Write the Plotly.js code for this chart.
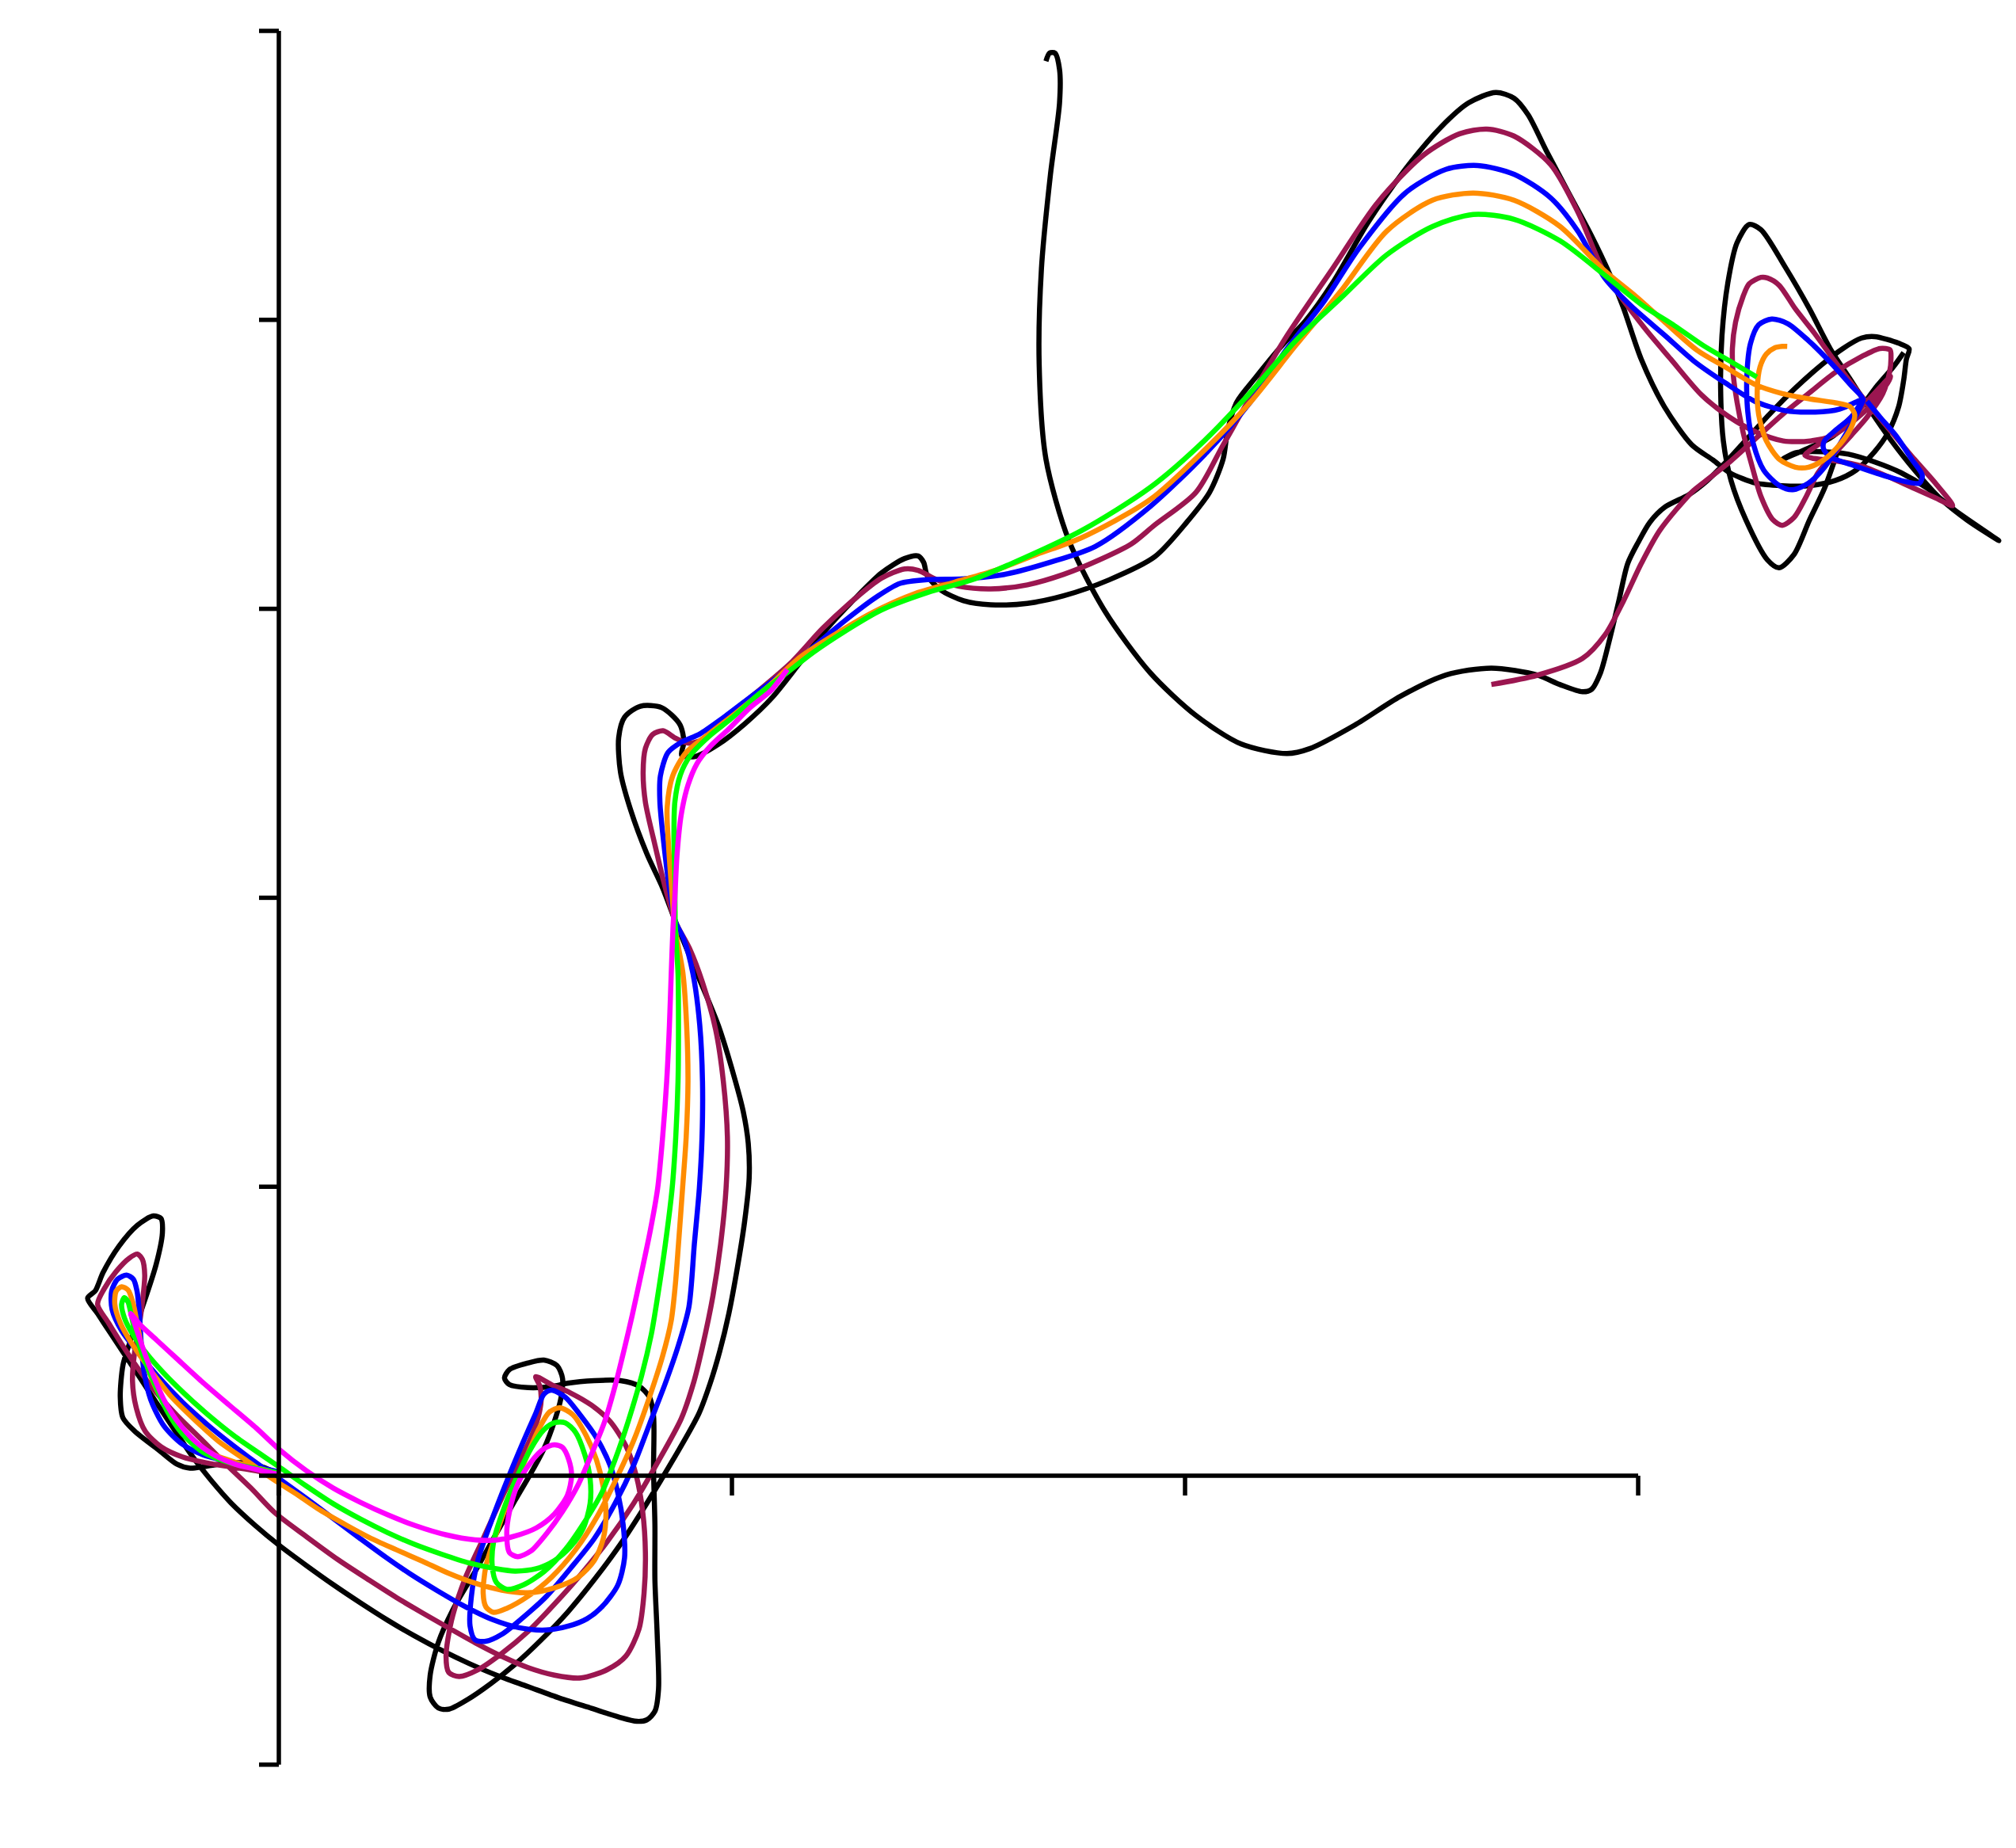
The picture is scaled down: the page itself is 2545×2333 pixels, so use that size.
<!DOCTYPE html>
<html>
<head>
<meta charset="utf-8">
<script src="https://cdn.plot.ly/plotly-3.0.1.min.js"></script>
<style>
  html, body { margin: 0; padding: 0; background: #fff; }
  #chart { width: 2545px; height: 2333px; }
</style>
</head>
<body>
<div id="chart"></div>
<script>
// axis ticks (no labels in the original)
var xTicks = [0, 1, 2, 3];
var yTicks = [-1, 0, 1, 2, 3, 4, 5];

// fitted paths, [x, y] pairs; null = break in the line
var blackPath = [[-0.001,0.006],[-0.038,0.031],[-0.079,0.045],[-0.132,0.040],[-0.167,0.031],[-0.196,0.026],[-0.225,0.040],[-0.266,0.090],[-0.318,0.154],[-0.344,0.200],[-0.350,0.273],[-0.344,0.383],[-0.330,0.456],[-0.301,0.584],[-0.271,0.730],[-0.257,0.840],[-0.260,0.890],[-0.277,0.899],[-0.312,0.867],[-0.353,0.794],[-0.388,0.703],[-0.405,0.640],[-0.422,0.614],[-0.400,0.561],[-0.371,0.492],[-0.341,0.421],[-0.312,0.352],[-0.272,0.257],[-0.225,0.146],[-0.190,0.065],[-0.150,-0.015],[-0.105,-0.095],[-0.050,-0.175],[0.000,-0.240],[0.060,-0.310],[0.120,-0.377],[0.180,-0.440],[0.240,-0.500],[0.300,-0.555],[0.360,-0.605],[0.420,-0.650],[0.480,-0.690],[0.550,-0.730],[0.620,-0.770],[0.690,-0.805],[0.750,-0.835],[0.790,-0.850],[0.812,-0.845],[0.830,-0.815],[0.838,-0.738],[0.835,-0.549],[0.830,-0.360],[0.830,-0.171],[0.827,0.018],[0.827,0.206],[0.818,0.272],[0.795,0.310],[0.754,0.329],[0.696,0.329],[0.637,0.320],[0.608,0.310],[0.550,0.305],[0.509,0.315],[0.498,0.338],[0.509,0.367],[0.550,0.390],[0.585,0.400],[0.614,0.381],[0.626,0.338],[0.623,0.272],[0.608,0.187],[0.585,0.093],[0.556,0.008],[0.521,-0.086],[0.480,-0.200],[0.433,-0.332],[0.387,-0.455],[0.352,-0.577],[0.334,-0.690],[0.334,-0.766],[0.352,-0.804],[0.375,-0.808],[0.416,-0.775],[0.468,-0.719],[0.521,-0.653],[0.579,-0.568],[0.637,-0.473],[0.696,-0.360],[0.754,-0.237],[0.812,-0.096],[0.870,0.055],[0.927,0.215],[0.952,0.320],[0.973,0.430],[0.993,0.560],[1.012,0.720],[1.028,0.880],[1.038,1.030],[1.036,1.150],[1.025,1.260],[1.005,1.380],[0.970,1.558],[0.923,1.737],[0.876,1.915],[0.847,2.034],[0.812,2.153],[0.777,2.301],[0.754,2.435],[0.750,2.554],[0.763,2.625],[0.798,2.663],[0.845,2.658],[0.885,2.600],[0.894,2.539],[0.889,2.494],[0.919,2.489],[0.969,2.530],[1.029,2.603],[1.090,2.695],[1.150,2.813],[1.210,2.932],[1.270,3.033],[1.330,3.124],[1.381,3.174],[1.411,3.183],[1.423,3.161],[1.431,3.115],[1.461,3.065],[1.511,3.028],[1.571,3.014],[1.652,3.019],[1.732,3.045],[1.832,3.100],[1.933,3.180],[2.004,3.300],[2.054,3.403],[2.084,3.518],[2.094,3.617],[2.114,3.715],[2.154,3.797],[2.215,3.913],[2.265,3.995],[2.325,4.126],[2.405,4.340],[2.486,4.521],[2.566,4.669],[2.626,4.751],[2.686,4.787],[2.726,4.767],[2.757,4.710],[2.797,4.586],[2.847,4.438],[2.897,4.291],[2.937,4.159],[2.967,4.044],[3.007,3.863],[3.058,3.699],[3.118,3.568],[3.165,3.515],[3.202,3.471],[3.260,3.435],[3.318,3.426],[3.376,3.426],[3.435,3.444],[3.481,3.480],[3.522,3.544],[3.551,3.608],[3.575,3.700],[3.586,3.791],[3.592,3.864],[3.598,3.900],[3.575,3.919],[3.522,3.942],[3.493,3.937],[3.452,3.901],[3.406,3.846],[3.347,3.764],[3.289,3.672],[3.231,3.572],[3.195,3.510],[3.150,3.440],[3.112,3.395],[3.059,3.352],[3.026,3.300],[3.000,3.230],[2.977,3.157],[2.957,3.025],[2.937,2.894],[2.917,2.779],[2.897,2.721],[2.877,2.713],[2.827,2.738],[2.777,2.771],[2.676,2.795],[2.576,2.771],[2.475,2.697],[2.375,2.598],[2.275,2.516],[2.225,2.499],[2.124,2.532],[2.024,2.631],[1.923,2.779],[1.823,2.992],[1.743,3.239],[1.693,3.518],[1.678,3.847],[1.683,4.176],[1.703,4.504],[1.723,4.751],[1.723,4.866],[1.713,4.923],[1.701,4.923],[1.693,4.895],
  null,
  [3.440,3.544],[3.411,3.416],[3.378,3.307],[3.344,3.188],[3.311,3.142],[3.285,3.170],[3.238,3.307],[3.205,3.444],[3.188,3.581],[3.182,3.764],[3.185,3.946],[3.198,4.129],[3.218,4.266],[3.245,4.330],[3.271,4.312],[3.324,4.184],[3.378,4.038],[3.424,3.900],[3.470,3.790],[3.515,3.680],[3.555,3.590],[3.610,3.480],[3.668,3.380],[3.726,3.307],[3.796,3.236],[3.700,3.340],[3.640,3.415],[3.580,3.471],[3.522,3.508],[3.464,3.535],[3.406,3.544],[3.347,3.540],[3.318,3.517],[3.376,3.556],[3.423,3.590],[3.458,3.636],[3.493,3.700],[3.528,3.773],[3.563,3.837],[3.586,3.887]];

var maroonPath = [[-0.001,0.001],[-0.050,0.017],[-0.108,0.031],[-0.161,0.045],[-0.213,0.065],[-0.260,0.100],[-0.295,0.154],[-0.315,0.237],[-0.323,0.328],[-0.319,0.419],[-0.309,0.511],[-0.301,0.602],[-0.296,0.694],[-0.301,0.748],[-0.312,0.767],[-0.330,0.753],[-0.359,0.707],[-0.385,0.648],[-0.400,0.593],[-0.376,0.529],[-0.347,0.456],[-0.312,0.374],[-0.272,0.291],[-0.225,0.209],[-0.172,0.127],[-0.120,0.045],[-0.062,-0.042],[-0.009,-0.128],[0.060,-0.210],[0.130,-0.290],[0.200,-0.362],[0.260,-0.422],[0.317,-0.475],[0.375,-0.527],[0.433,-0.578],[0.492,-0.625],[0.550,-0.664],[0.608,-0.690],[0.667,-0.700],[0.725,-0.671],[0.766,-0.624],[0.795,-0.530],[0.806,-0.407],[0.809,-0.266],[0.803,-0.124],[0.789,-0.001],[0.766,0.103],[0.731,0.188],[0.690,0.244],[0.643,0.287],[0.602,0.315],[0.567,0.343],[0.576,0.310],[0.579,0.263],[0.573,0.206],[0.556,0.131],[0.527,0.036],[0.492,-0.077],[0.451,-0.218],[0.410,-0.360],[0.381,-0.502],[0.369,-0.624],[0.375,-0.681],[0.398,-0.695],[0.439,-0.672],[0.492,-0.615],[0.550,-0.539],[0.608,-0.445],[0.667,-0.341],[0.725,-0.228],[0.783,-0.096],[0.836,0.046],[0.888,0.197],[0.915,0.320],[0.935,0.447],[0.958,0.622],[0.975,0.801],[0.987,0.994],[0.990,1.172],[0.981,1.365],[0.964,1.544],[0.935,1.707],[0.906,1.826],[0.876,1.915],[0.853,2.034],[0.830,2.183],[0.809,2.331],[0.804,2.435],[0.809,2.517],[0.825,2.565],[0.848,2.578],[0.876,2.552],[0.905,2.535],[0.935,2.548],[0.969,2.603],[1.049,2.704],[1.130,2.813],[1.200,2.932],[1.270,3.033],[1.330,3.106],[1.381,3.138],[1.411,3.133],[1.451,3.101],[1.501,3.078],[1.571,3.069],[1.652,3.083],[1.732,3.119],[1.812,3.170],[1.882,3.225],[1.933,3.290],[2.024,3.403],[2.084,3.567],[2.144,3.732],[2.225,3.945],[2.325,4.176],[2.425,4.406],[2.526,4.570],[2.606,4.644],[2.666,4.660],[2.726,4.636],[2.807,4.537],[2.867,4.373],[2.927,4.159],[3.013,3.974],[3.072,3.864],[3.140,3.740],[3.200,3.665],[3.260,3.612],[3.320,3.581],[3.380,3.581],[3.430,3.600],[3.464,3.636],[3.505,3.691],[3.534,3.745],[3.554,3.791],[3.557,3.805],[3.546,3.787],[3.505,3.718],[3.458,3.645],[3.417,3.590],[3.376,3.544],[3.368,3.531],[3.382,3.522],[3.435,3.512],[3.493,3.494],[3.551,3.458],[3.610,3.416],[3.656,3.384],[3.694,3.357],[3.656,3.435],[3.610,3.517],[3.551,3.627],[3.493,3.736],[3.435,3.855],[3.388,3.956],[3.347,4.038],[3.311,4.120],[3.285,4.145],[3.271,4.147],[3.245,4.125],[3.232,4.083],[3.215,3.992],[3.208,3.901],[3.210,3.809],[3.218,3.718],[3.232,3.608],[3.252,3.490],[3.271,3.389],[3.298,3.307],[3.318,3.289],[3.344,3.316],[3.371,3.389],[3.397,3.471],[3.435,3.540],[3.470,3.600],[3.505,3.663],[3.540,3.745],[3.555,3.820],[3.558,3.870],[3.556,3.896],[3.534,3.901],[3.493,3.873],[3.435,3.818],[3.376,3.745],[3.318,3.672],[3.260,3.590],[3.202,3.508],[3.143,3.435],[3.118,3.403],[3.048,3.272],[3.007,3.157],[2.967,3.025],[2.927,2.910],[2.877,2.828],[2.777,2.770],[2.676,2.738]];

var bluePath = [[-0.001,0.013],[-0.050,0.031],[-0.108,0.049],[-0.167,0.072],[-0.213,0.109],[-0.254,0.173],[-0.283,0.264],[-0.298,0.365],[-0.304,0.465],[-0.308,0.566],[-0.313,0.639],[-0.321,0.680],[-0.336,0.694],[-0.356,0.680],[-0.369,0.639],[-0.368,0.575],[-0.347,0.502],[-0.312,0.429],[-0.266,0.342],[-0.213,0.255],[-0.155,0.173],[-0.097,0.100],[-0.038,0.031],[0.000,-0.010],[0.060,-0.078],[0.120,-0.148],[0.180,-0.218],[0.236,-0.282],[0.290,-0.340],[0.350,-0.398],[0.410,-0.452],[0.470,-0.497],[0.530,-0.526],[0.590,-0.534],[0.640,-0.520],[0.680,-0.495],[0.713,-0.454],[0.748,-0.379],[0.763,-0.284],[0.760,-0.171],[0.748,-0.058],[0.731,0.036],[0.701,0.131],[0.667,0.206],[0.632,0.272],[0.602,0.296],[0.585,0.282],[0.567,0.216],[0.538,0.112],[0.503,-0.020],[0.468,-0.162],[0.439,-0.294],[0.425,-0.417],[0.422,-0.520],[0.433,-0.568],[0.457,-0.573],[0.492,-0.549],[0.538,-0.492],[0.591,-0.417],[0.643,-0.322],[0.696,-0.218],[0.742,-0.096],[0.783,0.036],[0.818,0.178],[0.853,0.320],[0.882,0.452],[0.905,0.584],[0.917,0.801],[0.928,0.994],[0.934,1.172],[0.935,1.365],[0.929,1.558],[0.914,1.737],[0.894,1.856],[0.876,1.915],[0.862,2.034],[0.850,2.183],[0.841,2.331],[0.842,2.421],[0.859,2.503],[0.889,2.539],[0.929,2.567],[0.979,2.621],[1.049,2.704],[1.120,2.786],[1.180,2.868],[1.250,2.960],[1.320,3.042],[1.371,3.088],[1.431,3.101],[1.511,3.104],[1.601,3.119],[1.702,3.161],[1.802,3.216],[1.923,3.354],[2.044,3.535],[2.144,3.715],[2.225,3.900],[2.305,4.060],[2.385,4.250],[2.486,4.439],[2.576,4.521],[2.646,4.534],[2.726,4.504],[2.807,4.422],[2.867,4.307],[2.927,4.143],[2.990,4.040],[3.059,3.946],[3.125,3.855],[3.192,3.782],[3.258,3.718],[3.324,3.686],[3.391,3.681],[3.444,3.691],[3.484,3.718],[3.495,3.727],[3.470,3.773],[3.423,3.855],[3.376,3.928],[3.330,3.987],[3.295,4.003],[3.266,3.983],[3.248,3.919],[3.240,3.809],[3.242,3.681],[3.254,3.572],[3.277,3.480],[3.312,3.426],[3.341,3.412],[3.376,3.435],[3.411,3.489],[3.446,3.572],[3.476,3.654],[3.493,3.709],[3.497,3.725],[3.470,3.663],[3.435,3.617],[3.411,3.581],[3.409,3.554],[3.423,3.526],[3.470,3.499],[3.522,3.471],[3.580,3.444],[3.621,3.435],[3.627,3.462],[3.604,3.517],[3.569,3.599],[3.534,3.663],[3.505,3.718]];

var orangePath = [[-0.001,0.008],[-0.050,0.028],[-0.097,0.047],[-0.155,0.081],[-0.207,0.145],[-0.248,0.237],[-0.283,0.346],[-0.301,0.438],[-0.312,0.520],[-0.321,0.593],[-0.333,0.643],[-0.347,0.654],[-0.359,0.639],[-0.362,0.593],[-0.350,0.529],[-0.324,0.456],[-0.283,0.365],[-0.237,0.273],[-0.184,0.191],[-0.132,0.118],[-0.073,0.054],[-0.015,-0.010],[0.043,-0.068],[0.090,-0.118],[0.150,-0.172],[0.200,-0.214],[0.259,-0.256],[0.317,-0.296],[0.375,-0.338],[0.433,-0.372],[0.492,-0.396],[0.550,-0.405],[0.608,-0.388],[0.661,-0.351],[0.696,-0.294],[0.716,-0.218],[0.722,-0.133],[0.716,-0.039],[0.701,0.055],[0.678,0.140],[0.649,0.211],[0.620,0.235],[0.597,0.220],[0.573,0.159],[0.544,0.055],[0.509,-0.077],[0.480,-0.200],[0.457,-0.313],[0.451,-0.407],[0.457,-0.454],[0.474,-0.473],[0.503,-0.459],[0.550,-0.417],[0.602,-0.351],[0.655,-0.256],[0.702,-0.143],[0.742,-0.020],[0.783,0.121],[0.818,0.272],[0.847,0.414],[0.866,0.537],[0.875,0.660],[0.882,0.801],[0.891,0.994],[0.899,1.172],[0.903,1.365],[0.900,1.558],[0.892,1.737],[0.874,1.900],[0.866,2.050],[0.860,2.183],[0.857,2.311],[0.869,2.421],[0.899,2.503],[0.949,2.567],[1.009,2.640],[1.080,2.731],[1.150,2.832],[1.230,2.914],[1.310,2.987],[1.401,3.051],[1.491,3.092],[1.581,3.133],[1.672,3.188],[1.770,3.245],[1.923,3.378],[2.044,3.551],[2.144,3.715],[2.245,3.913],[2.345,4.102],[2.445,4.307],[2.546,4.414],[2.636,4.439],[2.726,4.414],[2.827,4.324],[2.926,4.170],[2.993,4.084],[3.059,3.992],[3.130,3.895],[3.192,3.837],[3.260,3.775],[3.318,3.745],[3.376,3.727],[3.435,3.713],[3.467,3.700],[3.478,3.672],[3.470,3.627],[3.447,3.572],[3.411,3.517],[3.376,3.490],[3.347,3.490],[3.312,3.517],[3.283,3.581],[3.266,3.672],[3.263,3.764],[3.269,3.837],[3.283,3.882],[3.301,3.903],[3.318,3.908],[3.329,3.908]];

var greenPath = [[-0.001,0.010],[-0.050,0.025],[-0.108,0.045],[-0.167,0.081],[-0.213,0.145],[-0.248,0.228],[-0.277,0.328],[-0.301,0.419],[-0.318,0.502],[-0.327,0.566],[-0.333,0.602],[-0.341,0.616],[-0.347,0.593],[-0.341,0.547],[-0.324,0.493],[-0.295,0.429],[-0.254,0.355],[-0.207,0.282],[-0.155,0.209],[-0.097,0.136],[-0.038,0.072],[0.000,0.031],[0.060,-0.035],[0.120,-0.097],[0.180,-0.150],[0.240,-0.197],[0.300,-0.238],[0.360,-0.272],[0.420,-0.302],[0.480,-0.322],[0.521,-0.330],[0.568,-0.322],[0.608,-0.294],[0.643,-0.247],[0.672,-0.181],[0.687,-0.096],[0.687,-0.011],[0.675,0.074],[0.655,0.150],[0.632,0.183],[0.608,0.183],[0.585,0.159],[0.556,0.093],[0.521,-0.020],[0.492,-0.134],[0.474,-0.228],[0.471,-0.313],[0.480,-0.369],[0.503,-0.393],[0.538,-0.379],[0.585,-0.332],[0.632,-0.256],[0.678,-0.152],[0.713,-0.058],[0.742,0.055],[0.771,0.188],[0.801,0.348],[0.822,0.489],[0.836,0.620],[0.853,0.801],[0.868,0.994],[0.876,1.172],[0.881,1.365],[0.882,1.558],[0.881,1.737],[0.875,1.900],[0.874,2.064],[0.872,2.212],[0.874,2.331],[0.886,2.425],[0.909,2.494],[0.949,2.558],[0.999,2.621],[1.059,2.704],[1.120,2.777],[1.180,2.850],[1.250,2.923],[1.330,2.996],[1.431,3.056],[1.531,3.101],[1.622,3.160],[1.773,3.272],[1.923,3.420],[2.044,3.584],[2.144,3.748],[2.245,3.929],[2.345,4.077],[2.445,4.225],[2.546,4.323],[2.636,4.365],[2.726,4.348],[2.827,4.274],[2.930,4.150],[3.010,4.050],[3.080,3.980],[3.145,3.910],[3.205,3.855],[3.262,3.802]];

var magentaPath = [[-0.001,0.004],[-0.050,0.022],[-0.097,0.040],[-0.143,0.072],[-0.184,0.118],[-0.225,0.191],[-0.254,0.264],[-0.277,0.346],[-0.295,0.419],[-0.309,0.483],[-0.321,0.538],[-0.327,0.561],[-0.306,0.522],[-0.270,0.470],[-0.225,0.405],[-0.170,0.326],[-0.110,0.245],[-0.050,0.165],[0.000,0.092],[0.060,0.018],[0.120,-0.043],[0.180,-0.092],[0.240,-0.135],[0.300,-0.172],[0.370,-0.205],[0.433,-0.222],[0.480,-0.223],[0.521,-0.209],[0.568,-0.181],[0.608,-0.133],[0.637,-0.067],[0.646,-0.001],[0.640,0.055],[0.626,0.098],[0.608,0.107],[0.585,0.093],[0.556,0.046],[0.527,-0.030],[0.509,-0.124],[0.503,-0.200],[0.509,-0.266],[0.527,-0.280],[0.556,-0.261],[0.591,-0.200],[0.626,-0.124],[0.661,-0.030],[0.690,0.074],[0.719,0.187],[0.742,0.310],[0.763,0.442],[0.780,0.556],[0.800,0.700],[0.820,0.850],[0.836,0.994],[0.847,1.172],[0.856,1.365],[0.862,1.558],[0.866,1.737],[0.870,1.900],[0.874,2.004],[0.879,2.153],[0.888,2.287],[0.903,2.390],[0.923,2.465],[0.952,2.524],[0.993,2.584],[1.040,2.658],[1.086,2.717],[1.122,2.790]];

var series = [
  { path: blackPath,   color: '#000000' },
  { path: maroonPath,  color: '#9b1650' },
  { path: bluePath,    color: '#0000ff' },
  { path: orangePath,  color: '#ff8c00' },
  { path: greenPath,   color: '#00ff00' },
  { path: magentaPath, color: '#ff00ff' }
];

var traces = series.map(function(s) {
  return {
    x: s.path.map(function(p) { return p ? p[0] : null; }),
    y: s.path.map(function(p) { return p ? p[1] : null; }),
    mode: 'lines',
    type: 'scatter',
    line: { color: s.color, width: 6.5, shape: 'spline', smoothing: 0.8 },
    hoverinfo: 'skip',
    showlegend: false
  };
});

// axis lines only between the end ticks, like the original
var axisStyle = { color: '#000000', width: 5.5 };
var shapes = [
  { type: 'line', xref: 'x', yref: 'y', x0: xTicks[0], x1: xTicks[xTicks.length - 1], y0: 0, y1: 0, line: axisStyle, layer: 'above' },
  { type: 'line', xref: 'x', yref: 'y', x0: 0, x1: 0, y0: yTicks[0], y1: yTicks[yTicks.length - 1], line: axisStyle, layer: 'above' }
];
xTicks.forEach(function(t) {
  shapes.push({ type: 'line', xref: 'x', yref: 'y', ysizemode: 'pixel', yanchor: 0,
    x0: t, x1: t, y0: 0, y1: -25, line: axisStyle, layer: 'above' });
});
yTicks.forEach(function(t) {
  shapes.push({ type: 'line', xref: 'x', yref: 'y', xsizemode: 'pixel', xanchor: 0,
    x0: 0, x1: -25, y0: t, y1: t, line: axisStyle, layer: 'above' });
});

var layout = {
  width: 2545,
  height: 2333,
  margin: { l: 0, r: 0, t: 0, b: 0, pad: 0 },
  paper_bgcolor: '#ffffff',
  plot_bgcolor: '#ffffff',
  showlegend: false,
  xaxis: { range: [-0.6154, 3.8339], visible: false, fixedrange: true },
  yaxis: { range: [-1.2884, 5.1069], visible: false, fixedrange: true },
  shapes: shapes
};

Plotly.newPlot('chart', traces, layout, { displayModeBar: false, staticPlot: true });
</script>
</body>
</html>
